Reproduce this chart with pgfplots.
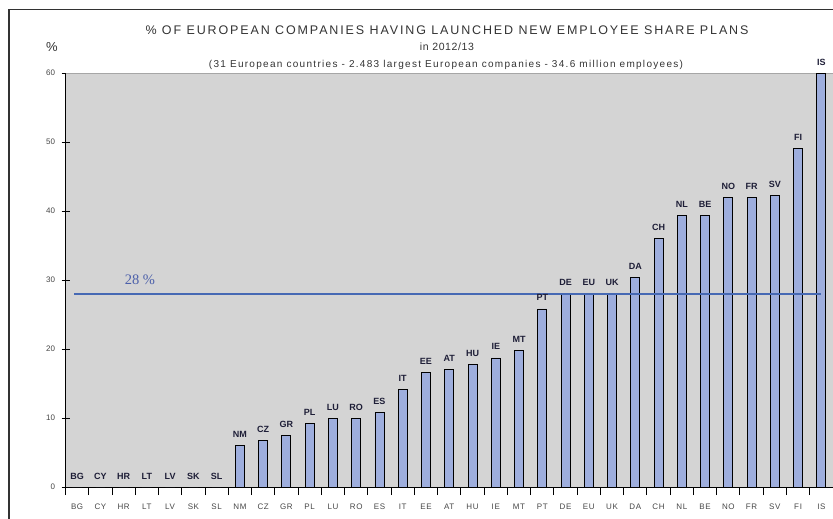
\documentclass[border=0pt]{standalone}
\usepackage{pgfplots}
\pgfplotsset{compat=1.18}
\usepackage{pgfplotstable}
\usepackage{fontspec}
\setmainfont{Liberation Sans}
\newfontfamily\titlefont[LetterSpace=15]{Liberation Sans}
\newfontfamily\subfont[LetterSpace=13]{Liberation Sans}
\newfontfamily\midfont[LetterSpace=6]{Liberation Sans}
\newfontfamily\tickfont[LetterSpace=8]{Liberation Sans}
\newfontfamily\seriffont{Liberation Serif}
\definecolor{plotbg}{RGB}{212,212,212}
\definecolor{barfill}{RGB}{158,174,221}
\definecolor{avgline}{RGB}{70,105,180}
\definecolor{avgtext}{RGB}{75,95,170}
\definecolor{lbl}{RGB}{30,30,55}
\definecolor{ticktxt}{RGB}{70,70,70}
\definecolor{framec}{RGB}{50,50,50}

\pgfplotstableread{
x y lab
0 0 BG
1 0 CY
2 0 HR
3 0 LT
4 0 LV
5 0 SK
6 0 SL
7 6.0 NM
8 6.7 CZ
9 7.4 GR
10 9.2 PL
11 10.0 LU
12 9.9 RO
13 10.8 ES
14 14.1 IT
15 16.6 EE
16 17.0 AT
17 17.7 HU
18 18.7 IE
19 19.8 MT
20 25.8 PT
21 28.0 DE
22 28.0 EU
23 28.0 UK
24 30.4 DA
25 36.0 CH
26 39.4 NL
27 39.4 BE
28 41.9 NO
29 41.9 FR
30 42.2 SV
31 49.0 FI
32 60.0 IS
}\datatable

\begin{document}
\begin{tikzpicture}
\path[use as bounding box] (0pt,-519pt) rectangle (833pt,0pt);
\draw[framec, line width=1.6pt] (9pt,-519pt) -- (9pt,-9.5pt) -- (833pt,-9.5pt);
\node[anchor=base, font=\titlefont\fontsize{12.5}{14}\selectfont, text=black!80] at (447pt,-35pt) {\% OF EUROPEAN  COMPANIES  HAVING  LAUNCHED NEW  EMPLOYEE  SHARE  PLANS};
\node[anchor=base, font=\midfont\fontsize{10.5}{12}\selectfont, text=black!80] at (447pt,-51pt) {in 2012/13};
\node[anchor=base, font=\subfont\fontsize{10}{12}\selectfont, text=black!80] at (446pt,-67pt) {(31 European countries - 2.483 largest European companies - 34.6 million employees)};
\node[anchor=base, font=\fontsize{13}{15}\selectfont, text=black!80] at (52pt,-52pt) {\%};
\begin{axis}[
  at={(65.5pt,-487pt)}, anchor=south west,
  scale only axis, width=767.5pt, height=414pt,
  xmin=-0.5, xmax=32.5, ymin=0, ymax=60,
  axis lines*=left,
  axis line style={-, black, line width=1pt},
  axis background/.style={fill=plotbg},
  clip=false,
  ytick={0,10,...,60},
  /pgf/number format/assume math mode=true,
  yticklabel style={font=\fontsize{8}{9}\selectfont, text=ticktxt, xshift=-3pt},
  xtick={0,...,32},
  xticklabels={BG,CY,HR,LT,LV,SK,SL,NM,CZ,GR,PL,LU,RO,ES,IT,EE,AT,HU,IE,MT,PT,DE,EU,UK,DA,CH,NL,BE,NO,FR,SV,FI,IS},
  xticklabel style={font=\tickfont\fontsize{8}{9}\selectfont, text=ticktxt, anchor=base, yshift=-14pt},
  minor xtick={-0.5,0.5,...,32.5},
  major x tick style={draw=none},
  tick align=center,
  major tick length=8pt, minor tick length=8pt,
  tick style={black, line width=1pt},
  ybar, bar width=9pt,
  nodes near coords,
  point meta=explicit symbolic,
  every node near coord/.append style={font=\bfseries\fontsize{9}{10}\selectfont, text=lbl, anchor=base, yshift=8pt},
]
\draw[gray!70, line width=0.8pt] (axis cs:-0.5,60) -- (axis cs:32.5,60);
\addplot[fill=barfill, draw=black, line width=0.9pt] table[x=x, y=y, meta=lab] {\datatable};
\addplot[sharp plot, avgline, line width=1.8pt, nodes near coords={}] coordinates {(-0.13,28) (32,28)};
\node[anchor=base, font=\seriffont\fontsize{14.5}{16}\selectfont, text=avgtext] at (axis cs:2.7,29.4) {28 \%};
\end{axis}
\end{tikzpicture}
\end{document}
